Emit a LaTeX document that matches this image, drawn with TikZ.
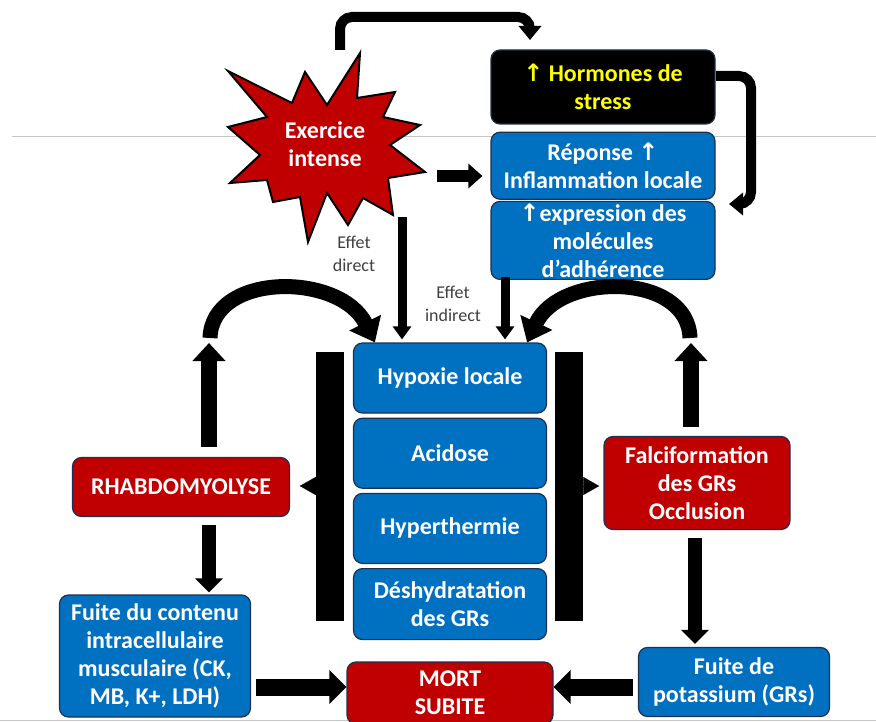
\documentclass[tikz,border=0pt]{standalone}
\usepackage{fontspec}
\setmainfont{Carlito}
\newfontfamily\arrowfont{DejaVu Sans}
\usepackage{tikz}
\usetikzlibrary{shapes.geometric, arrows.meta, positioning, calc}

\definecolor{redbox}{HTML}{C00000}
\definecolor{bluebox}{HTML}{0070C0}
\definecolor{boxline}{HTML}{1F2F4F}
\definecolor{hormtext}{HTML}{FFFF00}
\definecolor{labeltext}{HTML}{404040}
\newcommand{\uparr}{{\arrowfont ↑}}

\begin{document}
\begin{tikzpicture}[
    x=1pt, y=-1pt,
    node distance=4pt,
    box/.style={draw=boxline, line width=1.2pt, rounded corners=9pt, fill=#1, text=white, font=\fontsize{24}{28}\selectfont\bfseries, align=center, inner sep=2pt},
    bar/.style={fill=black, minimum width=28pt, minimum height=269pt, inner sep=0pt},
    lab/.style={text=labeltext, font=\fontsize{18}{23}\selectfont, align=center},
    fatarrow/.style={-{Triangle[length=17pt, width=33pt]}, line width=17pt},
    uparrow/.style={-{Triangle[length=18pt, width=32pt]}, line width=16pt},
    downarrow/.style={-{Triangle[length=14pt, width=27pt]}, line width=14pt},
    midarrow/.style={-{Triangle[length=14pt, width=24pt]}, line width=12pt},
    slimarrow/.style={-{Triangle[length=13pt, width=18pt]}, line width=9pt},
    looparrow/.style={-{Triangle[length=14pt, width=22pt]}, line width=10pt, rounded corners=12pt},
    arcarrow/.style={-{Triangle[length=22pt, width=34pt]}, line width=15pt},
    barhead/.style={-{Triangle[length=16pt, width=18pt]}, line width=0.1pt}
]
\useasboundingbox (0,0) rectangle (876,722);

% slide guide lines
\draw[gray!45, line width=1pt] (12,137) -- (876,137);
\draw[gray!45, line width=1pt] (0,720) -- (876,720);

% burst
\draw[fill=redbox, line width=2pt] (360,53) -- (357,98) -- (395,92) -- (383,117) -- (420,125) -- (390,145)
  -- (425,172) -- (388,178) -- (393,215) -- (363,198) -- (348,225) -- (327,193) -- (308,242) -- (300,197)
  -- (273,202) -- (267,180) -- (230,183) -- (260,155) -- (228,127) -- (267,117) -- (228,71) -- (292,103)
  -- (305,72) -- (327,105) -- cycle;
\node[text=white, align=center, font=\fontsize{24}{28}\selectfont\bfseries] (exo) at (325,144) {Exercice\\intense};

% right column
\node[box=black, text=hormtext, minimum width=224pt, minimum height=74pt] (horm) at (603,87) {\uparr{} Hormones de\\stress};
\node[box=bluebox, minimum width=224pt, minimum height=67pt, below=7pt of horm] (rep) {Réponse \uparr\\Inflammation locale};
\node[box=bluebox, minimum width=224pt, minimum height=78pt, below=1pt of rep] (adh) {\uparr expression des\\molécules\\d’adhérence};

% central stack
\node[box=bluebox, minimum width=193pt, minimum height=70pt] (hyp) at (450,378) {Hypoxie locale};
\node[box=bluebox, minimum width=193pt, minimum height=70pt, below=of hyp] (acid) {Acidose};
\node[box=bluebox, minimum width=193pt, minimum height=70pt, below=of acid] (hyperth) {Hyperthermie};
\node[box=bluebox, minimum width=193pt, minimum height=71pt, below=of hyperth] (deshy) {Déshydratation\\des GRs};

\node[bar] (lbar) at (330,486) {};
\node[bar] (rbar) at (569,486) {};

% consequences
\node[box=redbox, minimum width=217pt, minimum height=59pt] (rhab) at (181,487) {RHABDOMYOLYSE};
\node[box=redbox, minimum width=186pt, minimum height=93pt] (falci) at (697,483) {Falciformation\\des GRs\\Occlusion};
\node[box=bluebox, minimum width=191pt, minimum height=122pt] (fuite) at (155,656) {Fuite du contenu\\intracellulaire\\musculaire (CK,\\MB, K+, LDH)};
\node[box=bluebox, minimum width=191pt, minimum height=69pt] (potas) at (734,682) {Fuite de\\potassium (GRs)};
\node[box=redbox, minimum width=206pt, minimum height=62pt] (mort) at (450,693) {MORT\\SUBITE};

% loops round the stress hormones
\coordinate (t0) at (340,50);
\coordinate (t1) at (530,40);
\draw[looparrow] (t0) -- ++(0,-33) -| (t1);
\coordinate (r0) at (716,76);
\coordinate (r1) at (729,204);
\draw[looparrow] (r0) -- ++(35,0) |- (r1);

\coordinate (s0) at (437,176);
\draw[midarrow, shorten >=8pt] (s0) -- (s0 -| rep.west);

% direct and indirect effects
\coordinate (d0) at (402,217);
\draw[slimarrow, shorten >=3pt] (d0) -- (d0 |- hyp.north);
\node[lab] (ldir) at (354,254) {Effet\\direct};
\coordinate (i0) at (505,277);
\draw[slimarrow, shorten >=3pt] (i0) -- (i0 |- hyp.north);
\node[lab] (lind) at (453,304) {Effet\\indirect};

% feedback arcs
\coordinate (lu) at (209,343);
\draw[uparrow, shorten <=10pt] (lu |- rhab.north) -- (lu);
\coordinate (ru) at (691,343);
\draw[uparrow, shorten <=9pt] (ru |- falci.north) -- (ru);
\coordinate (la) at (210,338);
\draw[arcarrow] (la) .. controls (212,272) and (340,272) .. ([xshift=22pt]hyp.north west);
\coordinate (ra) at (690,338);
\draw[arcarrow] (ra) .. controls (688,272) and (560,272) .. ([xshift=-20pt]hyp.north east);

\draw[barhead] (lbar.west) -- ++(-16,0);
\draw[barhead] (rbar.east) -- ++(16,0);

% down to the leaks
\coordinate (ld) at (209,525);
\draw[downarrow, shorten >=2pt] (ld) -- (ld |- fuite.north);
\coordinate (rd) at (695,538);
\draw[downarrow, shorten >=3pt] (rd) -- (rd |- potas.north);

\coordinate (ml) at ([yshift=6pt]mort.west);
\coordinate (mr) at ([yshift=6pt]mort.east);
\draw[fatarrow, shorten <=5pt] (fuite.east |- ml) -- (ml);
\draw[fatarrow, shorten <=5pt] (potas.west |- mr) -- (mr);

\end{tikzpicture}
\end{document}
